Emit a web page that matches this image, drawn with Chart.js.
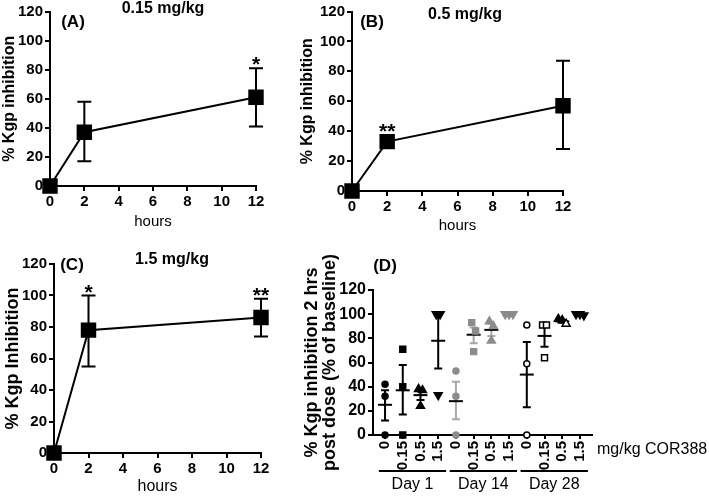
<!DOCTYPE html>
<html>
<head>
<meta charset="utf-8">
<script src="https://cdn.jsdelivr.net/npm/chart.js@4"></script>
<style>
  body { margin: 0; width: 709px; height: 496px; background: #fff; position: relative; overflow: hidden; }
  canvas { position: absolute; }
</style>
</head>
<body>
<canvas id="chartA" width="295" height="240" style="left:0;top:0"></canvas>
<canvas id="chartB" width="300" height="240" style="left:295px;top:0"></canvas>
<canvas id="chartC" width="300" height="251" style="left:0;top:245px"></canvas>
<canvas id="chartD" width="409" height="251" style="left:300px;top:245px"></canvas>
<script>
// time course panels (A-C): mean with error bar ends
const hours = [0, 2, 12];

const meanA = [0, 37, 61];
const lowA = [null, 17, 41];
const highA = [null, 58, 81];
const starsA = ["", "", "*"];

const meanB = [0, 33, 57];
const lowB = [null, null, 28];
const highB = [null, null, 87];
const starsB = ["", "**", ""];

const meanC = [0, 78, 86];
const lowC = [null, 55, 74];
const highC = [null, 100, 98];
const starsC = ["", "*", "**"];

// panel D: individual animals per dose and day
const doseLabels = ["0", "0.15", "0.5", "1.5", "0", "0.15", "0.5", "1.5", "0", "0.15", "0.5", "1.5"];
const dayLabels = ["Day 1", "Day 14", "Day 28"];
const groupPoints = [
  [42, 32, 0], [71, 40, 0], [38, 37, 24], [100, 100, 33],
  [53, 32, 0], [93, 86, 69], [94, 90, 78], [100, 100, 100],
  [91, 59, 0], [91, 91, 64], [96, 95, 92], [100, 100, 99]
];
const groupMean = [25, 37, 33, 78, 28, 83, 87, 100, 50, 82, 94, 100];
const groupLow = [12, 17, 29, 55, 13, 76, 82, 100, 23, 73, 93, 100];
const groupHigh = [37, 58, 38, 100, 44, 89, 92, 100, 77, 91, 95, 100];

Chart.defaults.font.family = "Arial, 'Liberation Sans', sans-serif";
Chart.defaults.color = "#000";
Chart.defaults.animation = false;

// error bars, stars and panel texts for A-C
const annotate = {
  id: "annotate",
  beforeDatasetsDraw(chart, args, opts) {
    const { ctx, scales: { x, y } } = chart;
    ctx.save();
    ctx.strokeStyle = "#000";
    ctx.lineWidth = 2;
    opts.low.forEach((lo, i) => {
      if (lo === null) return;
      const px = x.getPixelForValue(hours[i]);
      const y1 = y.getPixelForValue(lo);
      const y2 = y.getPixelForValue(opts.high[i]);
      ctx.beginPath();
      ctx.moveTo(px, y1); ctx.lineTo(px, y2);
      ctx.moveTo(px - 7, y1); ctx.lineTo(px + 7, y1);
      ctx.moveTo(px - 7, y2); ctx.lineTo(px + 7, y2);
      ctx.stroke();
    });
    ctx.restore();
  },
  afterDraw(chart, args, opts) {
    const { ctx, scales: { x, y } } = chart;
    ctx.save();
    ctx.fillStyle = "#000";
    ctx.textAlign = "center";
    ctx.font = "bold 21px Arial, 'Liberation Sans', sans-serif";
    ctx.textBaseline = "alphabetic";
    opts.stars.forEach((s, i) => {
      if (!s) return;
      const anchor = opts.high[i] !== null ? y.getPixelForValue(opts.high[i]) : y.getPixelForValue(opts.mean[i]) - 7;
      ctx.fillText(s, x.getPixelForValue(hours[i]), anchor + 3);
    });
    ctx.textBaseline = "middle";
    opts.texts.forEach(t => {
      ctx.font = t.font;
      ctx.fillText(t.text, t.x, t.y);
    });
    ctx.restore();
  }
};

function timeCourse(id, mean, low, high, stars, yTitle, texts, box) {
  return new Chart(document.getElementById(id), {
    type: "line",
    data: {
      datasets: [{
        data: hours.map((h, i) => ({ x: h, y: mean[i] })),
        borderColor: "#000",
        borderWidth: 2,
        pointStyle: "rect",
        pointRadius: 9.5,
        pointHoverRadius: 9.5,
        pointBackgroundColor: "#000",
        pointBorderColor: "#000",
        clip: false
      }]
    },
    options: {
      responsive: false,
      events: [],
      layout: { padding: { left: 0, top: box.top, right: box.right, bottom: 0 } },
      plugins: {
        legend: { display: false },
        tooltip: { enabled: false },
        annotate: { mean, low, high, stars, texts }
      },
      scales: {
        x: {
          type: "linear", min: 0, max: 12,
          ticks: { stepSize: 2, font: { size: box.tick, weight: "bold" }, padding: 2 },
          grid: { drawOnChartArea: false, color: "#000", lineWidth: 2, tickLength: 5 },
          border: { color: "#000", width: 2 },
          title: { display: true, text: "hours", font: { size: box.xFont }, padding: { top: 0, bottom: box.xPad } },
          afterFit: s => { s.height = box.xHeight; }
        },
        y: {
          min: 0, max: 120,
          ticks: { stepSize: 20, font: { size: box.tick, weight: "bold" }, padding: 2 },
          grid: { drawOnChartArea: false, color: "#000", lineWidth: 2, tickLength: 5 },
          border: { color: "#000", width: 2 },
          title: { display: true, text: yTitle, font: { size: box.yFont, weight: "bold" }, padding: { top: box.yPad, bottom: 0 } },
          afterFit: s => { s.width = box.yWidth; }
        }
      }
    },
    plugins: [annotate]
  });
}

timeCourse("chartA", meanA, lowA, highA, starsA, "% Kgp inhibition", [
  { text: "(A)", x: 73, y: 22, font: "bold 17px Arial, 'Liberation Sans', sans-serif" },
  { text: "0.15 mg/kg", x: 163, y: 9, font: "bold 16px Arial, 'Liberation Sans', sans-serif" }
], { top: 10, right: 39, yWidth: 50, xHeight: 54, xPad: 9, yPad: 0, tick: 15, xFont: 15, yFont: 16 });

timeCourse("chartB", meanB, lowB, highB, starsB, "% Kgp inhibition", [
  { text: "(B)", x: 77, y: 22, font: "bold 17px Arial, 'Liberation Sans', sans-serif" },
  { text: "0.5 mg/kg", x: 170, y: 15, font: "bold 16px Arial, 'Liberation Sans', sans-serif" }
], { top: 9, right: 32, yWidth: 57, xHeight: 49, xPad: 5, yPad: 3, tick: 15, xFont: 15, yFont: 16 });

timeCourse("chartC", meanC, lowC, highC, starsC, "% Kgp Inhibition", [
  { text: "(C)", x: 72, y: 20, font: "bold 17px Arial, 'Liberation Sans', sans-serif" },
  { text: "1.5 mg/kg", x: 172, y: 15, font: "bold 16px Arial, 'Liberation Sans', sans-serif" }
], { top: 19, right: 39, yWidth: 54, xHeight: 43, xPad: 0, yPad: 2, tick: 15, xFont: 16, yFont: 18 });

// panel D
const shapes = ["circle", "rect", "triangle", "triangle"];
const shapeRotation = [0, 0, 0, 180];
const shapeRadius = [3, 4.2, 4.6, 4.6];
const markerFill = [
  ["#000", "#000", "#000", "#000"],
  ["#8c8c8c", "#8c8c8c", "#8c8c8c", "#8c8c8c"],
  ["#fff", "#fff", ["#000", "#000", "#fff"], "#000"]
];
const markerEdge = ["#000", "#8c8c8c", "#000"];

// side-by-side offsets for animals whose values would overlap
function spread(vals) {
  const off = vals.map(() => 0);
  const order = vals.map((v, i) => i).sort((a, b) => vals[b] - vals[a]);
  let k = 0;
  while (k < order.length) {
    let j = k;
    while (j + 1 < order.length && vals[order[k]] - vals[order[j + 1]] <= 8) j++;
    const n = j - k + 1;
    for (let m = 0; m < n; m++) off[order[k + m]] = (m - (n - 1) / 2) * 0.22;
    k = j + 1;
  }
  return off;
}

const scatterSets = groupPoints.map((vals, i) => {
  const day = Math.floor(i / 4), dose = i % 4;
  const off = spread(vals);
  return {
    data: vals.map((v, k) => ({ x: i + 1 + off[k], y: v })),
    pointStyle: shapes[dose],
    rotation: shapeRotation[dose],
    pointRadius: shapeRadius[dose],
    pointHoverRadius: shapeRadius[dose],
    pointBackgroundColor: markerFill[day][dose],
    pointBorderColor: markerEdge[day],
    pointBorderWidth: 1.5,
    showLine: false,
    clip: false
  };
});

const dayExtras = {
  id: "dayExtras",
  beforeDatasetsDraw(chart) {
    const { ctx, scales: { x, y } } = chart;
    ctx.save();
    ctx.lineWidth = 2;
    groupMean.forEach((m, i) => {
      const px = x.getPixelForValue(i + 1);
      const lo = y.getPixelForValue(groupLow[i]);
      const hi = y.getPixelForValue(groupHigh[i]);
      ctx.strokeStyle = Math.floor(i / 4) === 1 ? "#a8a8a8" : "#000";
      ctx.beginPath();
      ctx.moveTo(px, lo); ctx.lineTo(px, hi);
      ctx.moveTo(px - 4, lo); ctx.lineTo(px + 4, lo);
      ctx.moveTo(px - 4, hi); ctx.lineTo(px + 4, hi);
      ctx.stroke();
      const pm = y.getPixelForValue(m);
      ctx.strokeStyle = "#000";
      ctx.beginPath();
      ctx.moveTo(px - 7, pm); ctx.lineTo(px + 7, pm);
      ctx.stroke();
    });
    ctx.restore();
  },
  afterDraw(chart) {
    const { ctx, chartArea, scales: { x } } = chart;
    ctx.save();
    ctx.fillStyle = "#000";
    ctx.strokeStyle = "#000";
    ctx.lineWidth = 2;
    ctx.textBaseline = "middle";
    ctx.textAlign = "center";
    dayLabels.forEach((d, k) => {
      const x1 = x.getPixelForValue(k * 4 + 1 - 0.35);
      const x2 = x.getPixelForValue(k * 4 + 4 + 0.45);
      ctx.beginPath();
      ctx.moveTo(x1, 226); ctx.lineTo(x2, 226);
      ctx.stroke();
      ctx.font = "16px Arial, 'Liberation Sans', sans-serif";
      ctx.fillText(d, (x1 + x2) / 2, 240);
    });
    ctx.font = "bold 17px Arial, 'Liberation Sans', sans-serif";
    ctx.fillText("(D)", 85, 21);
    ctx.textAlign = "left";
    ctx.font = "16px Arial, 'Liberation Sans', sans-serif";
    ctx.fillText("mg/kg COR388", chartArea.right + 5, chartArea.bottom + 15);
    ctx.restore();
  }
};

new Chart(document.getElementById("chartD"), {
  type: "scatter",
  data: { datasets: scatterSets },
  options: {
    responsive: false,
    events: [],
    layout: { padding: { left: 0, top: 45, right: 117, bottom: 0 } },
    plugins: { legend: { display: false }, tooltip: { enabled: false } },
    scales: {
      x: {
        type: "linear", min: 0.32, max: 12.68,
        afterBuildTicks: s => { s.ticks = doseLabels.map((_, i) => ({ value: i + 1 })); },
        ticks: {
          autoSkip: false, minRotation: 90, maxRotation: 90, padding: 2,
          font: { size: 15, weight: "bold" },
          callback: v => doseLabels[v - 1]
        },
        grid: { drawOnChartArea: false, color: "#000", lineWidth: 2, tickLength: 4 },
        border: { color: "#000", width: 2 },
        afterFit: s => { s.height = 61; }
      },
      y: {
        min: 0, max: 120,
        ticks: { stepSize: 20, font: { size: 16, weight: "bold" }, padding: 2 },
        grid: { drawOnChartArea: false, color: "#000", lineWidth: 2, tickLength: 5 },
        border: { color: "#000", width: 2 },
        title: {
          display: true,
          text: ["% Kgp inhibition 2 hrs", "post dose (% of baseline)"],
          font: { size: 18, weight: "bold", lineHeight: 1.0 },
          padding: { top: 3, bottom: 0 }
        },
        afterFit: s => { s.width = 73; }
      }
    }
  },
  plugins: [dayExtras]
});
</script>
</body>
</html>
